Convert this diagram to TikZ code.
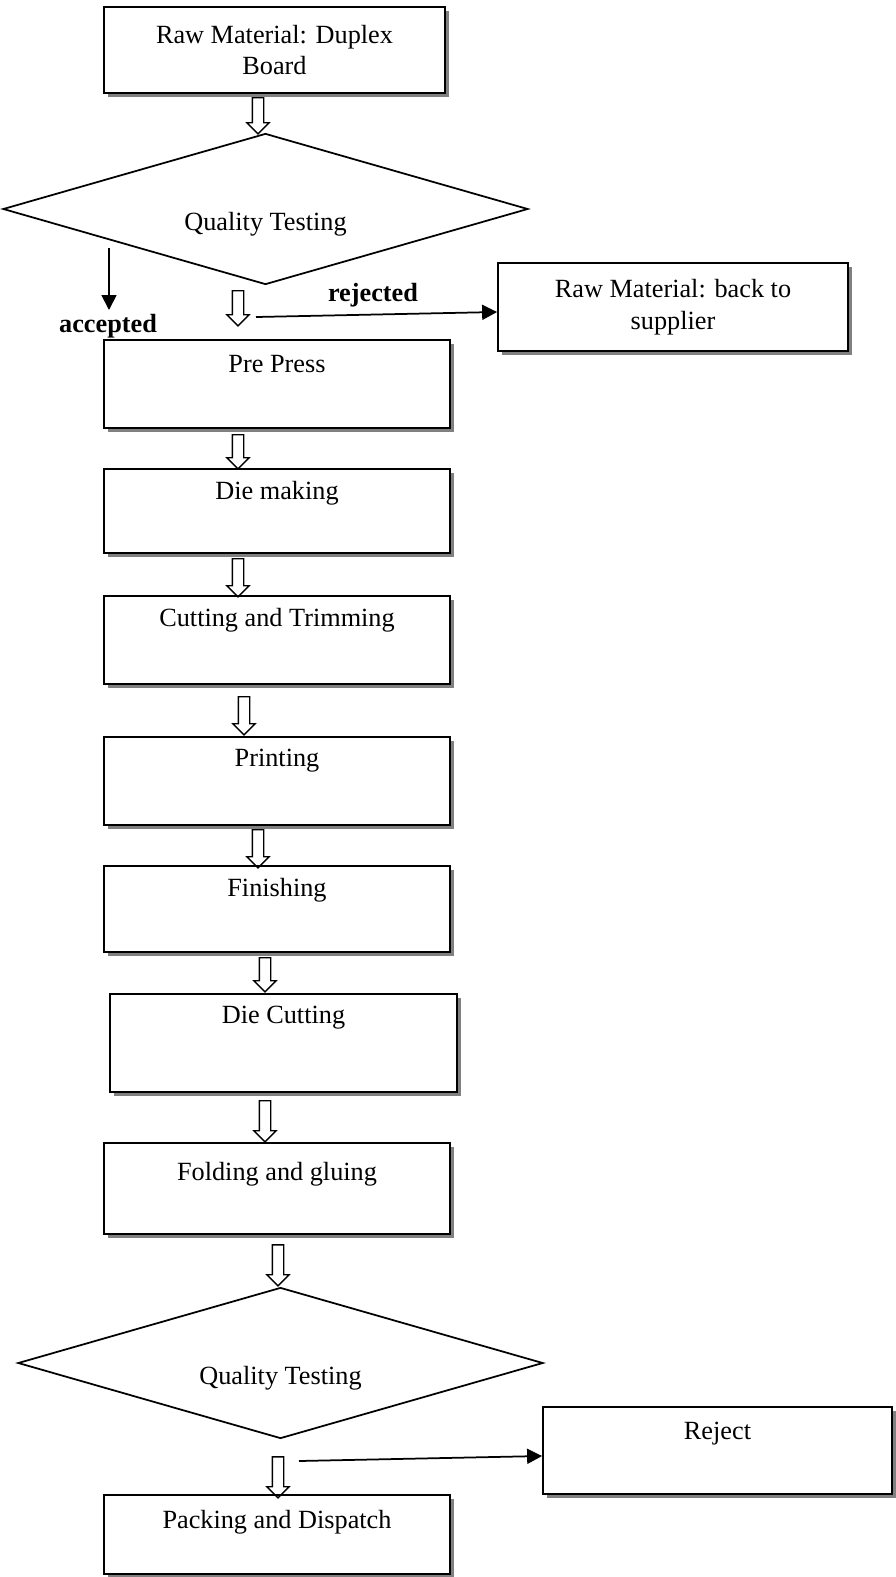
\documentclass[tikz,border=0pt]{standalone}
\usepackage{fontspec}
\setmainfont{Liberation Serif}
\usepackage{tikz}
\usetikzlibrary{calc,positioning}
\usetikzlibrary{shapes.geometric,shapes.arrows,shadows,arrows.meta}

\def\pxu{0.457pt}
\tikzset{
	stage/.style = {draw, line width=0.8pt, fill=white, minimum width=346*\pxu, minimum height=88*\pxu,
		drop shadow={shadow xshift=4*\pxu, shadow yshift=-4*\pxu, fill=black!50, opacity=1}},
	toptext/.style = {anchor=center, yshift=-25*\pxu},
	test/.style = {draw, diamond, line width=0.8pt, inner sep=0pt, minimum width=525*\pxu, minimum height=151*\pxu},
	flow/.style = {draw, single arrow, rotate=-90, line width=0.6pt, inner xsep=0pt, inner ysep=5*\pxu,
		minimum width=0pt, single arrow head extend=5.5*\pxu, single arrow tip angle=90},
	link/.style = {line width=0.8pt, -{Triangle[length=15*\pxu, width=15*\pxu]}}
}

\begin{document}
\begin{tikzpicture}[x=\pxu, y=-\pxu, font=\fontsize{12pt}{14.5pt}\selectfont]
	\useasboundingbox (0,0) rectangle (895,1577);
	% boxes and tests
	\node[stage, minimum width=341*\pxu, minimum height=86*\pxu, align=center] (raw) at (274.5,50) {Raw Material: Duplex\\Board};
	\node[test, label={[toptext, yshift=10*\pxu]center:Quality Testing}] (qt1) at (265.5,209) {};
	\node[stage, minimum width=350*\pxu, align=center] (back) at (673,307) {Raw Material: back to\\supplier};
	\node[stage, label={[toptext]north:Pre Press}] (pre) at (277,384) {};
	\node[stage, minimum height=84*\pxu, label={[toptext]north:Die making}] (die) at (277,511) {};
	\node[stage, label={[toptext]north:Cutting and Trimming}] (cut) at (277,640) {};
	\node[stage, label={[toptext]north:Printing}] (print) at (277,781) {};
	\node[stage, minimum height=86*\pxu, label={[toptext]north:Finishing}] (finish) at (277,909) {};
	\node[stage, minimum width=347*\pxu, minimum height=98*\pxu, label={[toptext]north:Die Cutting}] (diecut) at (283.5,1043) {};
	\node[stage, minimum height=91*\pxu, label={[toptext, yshift=-7*\pxu]north:Folding and gluing}] (fold) at (277,1188.5) {};
	\node[test, label={[toptext, yshift=10*\pxu]center:Quality Testing}] (qt2) at (280.5,1363) {};
	\node[stage, minimum width=349*\pxu, minimum height=87*\pxu, label={[toptext, yshift=-2*\pxu]north:Reject}] (reject) at (717.5,1450.5) {};
	\node[stage, minimum height=79*\pxu, label={[toptext, yshift=-3*\pxu]north:Packing and Dispatch}] (pack) at (277,1534.5) {};

	% hollow arrows between the steps
	\node[flow, minimum height=36*\pxu] (f1) at (258,113) {};
	\node[flow, minimum height=35*\pxu] (f2) at (238,305.5) {};
	\node[flow, minimum height=34*\pxu] (f3) at (238,449) {};
	\node[flow, minimum height=38*\pxu] (f4) at (238,575) {};
	\node[flow, minimum height=38*\pxu] (f5) at (244,713) {};
	\node[flow, minimum height=38*\pxu] (f6) at (258,846) {};
	\node[flow, minimum height=34*\pxu] (f7) at (265,972) {};
	\node[flow, minimum height=41*\pxu] (f8) at (265,1118.5) {};
	\node[flow, minimum height=41*\pxu] (f9) at (278,1262.5) {};
	\node[flow, minimum height=41*\pxu] (f10) at (278,1474.5) {};

	% accepted / rejected
	\coordinate (acc1) at (109,248);
	\coordinate (acc2) at (109,310);
	\node[font=\fontsize{12pt}{14.5pt}\selectfont\bfseries] (acc) at (108,326) {accepted};
	\node[font=\fontsize{12pt}{14.5pt}\selectfont\bfseries] (rej) at (373,295) {rejected};
	\coordinate (rej1) at (256,317);
	\coordinate (rej2) at (299,1461);
	\draw[link] (acc1) -- (acc2);
	\draw[link] (rej1) -- ([yshift=-5*\pxu]back.west);
	\draw[link] (rej2) -- ([yshift=-5.5*\pxu]reject.west);
\end{tikzpicture}
\end{document}
